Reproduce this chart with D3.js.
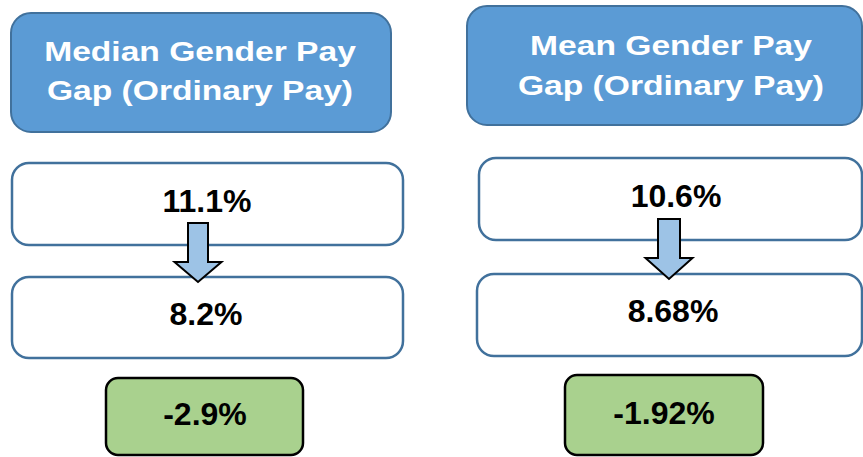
<!DOCTYPE html>
<meta charset="utf-8">
<script src="https://d3js.org/d3.v7.min.js"></script>
<style>
  body { margin: 0; background: #fff; }
  text { font-family: "Liberation Sans", Arial, sans-serif; font-weight: bold; }
</style>
<div id="chart"></div>
<script>
// Data.
var columns = ["Median", "Mean"];
var titleLines = [
    ["Median Gender Pay", "Gap (Ordinary Pay)"],
    ["Mean Gender Pay", "Gap (Ordinary Pay)"]
];
var beforeValues = [11.1, 10.6];
var afterValues = [8.2, 8.68];
var changeValues = [-2.9, -1.92];

var width = 863, height = 457;

// Layout for each column (the two columns are not quite aligned).
var layout = [
    { header: [11, 13, 380, 119], title: [200, 61, 100],
      before: [12, 163, 391, 82], beforeText: [207, 212],
      after: [12, 277, 391, 81], afterText: [206, 325],
      change: [106, 378, 197, 77], changeText: [205, 425],
      arrow: { x: 198, top: 223, neck: 262, tip: 282, shaft: 10, head: 23.5 } },
    { header: [467, 6, 395, 119], title: [671, 55, 95],
      before: [479, 158, 383, 82], beforeText: [676, 207],
      after: [477, 274, 385, 82], afterText: [673, 322],
      change: [565, 375, 198, 80], changeText: [664, 424],
      arrow: { x: 669, top: 219, neck: 258, tip: 279, shaft: 11, head: 23.5 } }
];

var pct = function(v) { return v + "%"; };

var svg = d3.select("#chart").append("svg")
    .attr("width", width)
    .attr("height", height);

var col = svg.selectAll(".col")
    .data(columns.map(function(c, i) {
        return { name: c, title: titleLines[i], before: beforeValues[i],
                 after: afterValues[i], change: changeValues[i], L: layout[i] };
    }))
    .enter().append("g")
    .attr("class", "col");

function box(sel, key, fill, stroke, sw, r) {
    sel.append("rect")
        .attr("x", function(d) { return d.L[key][0]; })
        .attr("y", function(d) { return d.L[key][1]; })
        .attr("width", function(d) { return d.L[key][2]; })
        .attr("height", function(d) { return d.L[key][3]; })
        .attr("rx", r).attr("ry", r)
        .attr("fill", fill)
        .attr("stroke", stroke)
        .attr("stroke-width", sw);
}

box(col, "header", "#5B9BD5", "#41719C", 2, 20);
box(col, "before", "#fff", "#41719C", 2.5, 17);
box(col, "after", "#fff", "#41719C", 2.5, 17);
box(col, "change", "#A9D18E", "#000", 2.5, 12);

// Down arrow between the two values.
col.append("path")
    .attr("d", function(d) {
        var a = d.L.arrow;
        return "M" + (a.x - a.shaft) + "," + a.top +
            "H" + (a.x + a.shaft) + "V" + a.neck +
            "H" + (a.x + a.head) + "L" + a.x + "," + a.tip +
            "L" + (a.x - a.head) + "," + a.neck +
            "H" + (a.x - a.shaft) + "Z";
    })
    .attr("fill", "#9DC3E6")
    .attr("stroke", "#000")
    .attr("stroke-width", 2)
    .attr("stroke-linejoin", "miter");

// Header titles (slightly stretched horizontally like the original).
col.each(function(d) {
    var g = d3.select(this);
    d.title.forEach(function(line, i) {
        var cx = d.L.title[0], by = d.L.title[1 + i];
        g.append("text")
            .attr("transform", "translate(" + cx + "," + by + ") scale(1.2,1)")
            .attr("text-anchor", "middle")
            .attr("fill", "#fff")
            .style("font-size", "28px")
            .text(line);
    });
});

function label(sel, key, value) {
    sel.append("text")
        .attr("x", function(d) { return d.L[key][0]; })
        .attr("y", function(d) { return d.L[key][1]; })
        .attr("text-anchor", "middle")
        .attr("fill", "#000")
        .style("font-size", "32px")
        .text(function(d) { return pct(d[value]); });
}

label(col, "beforeText", "before");
label(col, "afterText", "after");
label(col, "changeText", "change");
</script>
